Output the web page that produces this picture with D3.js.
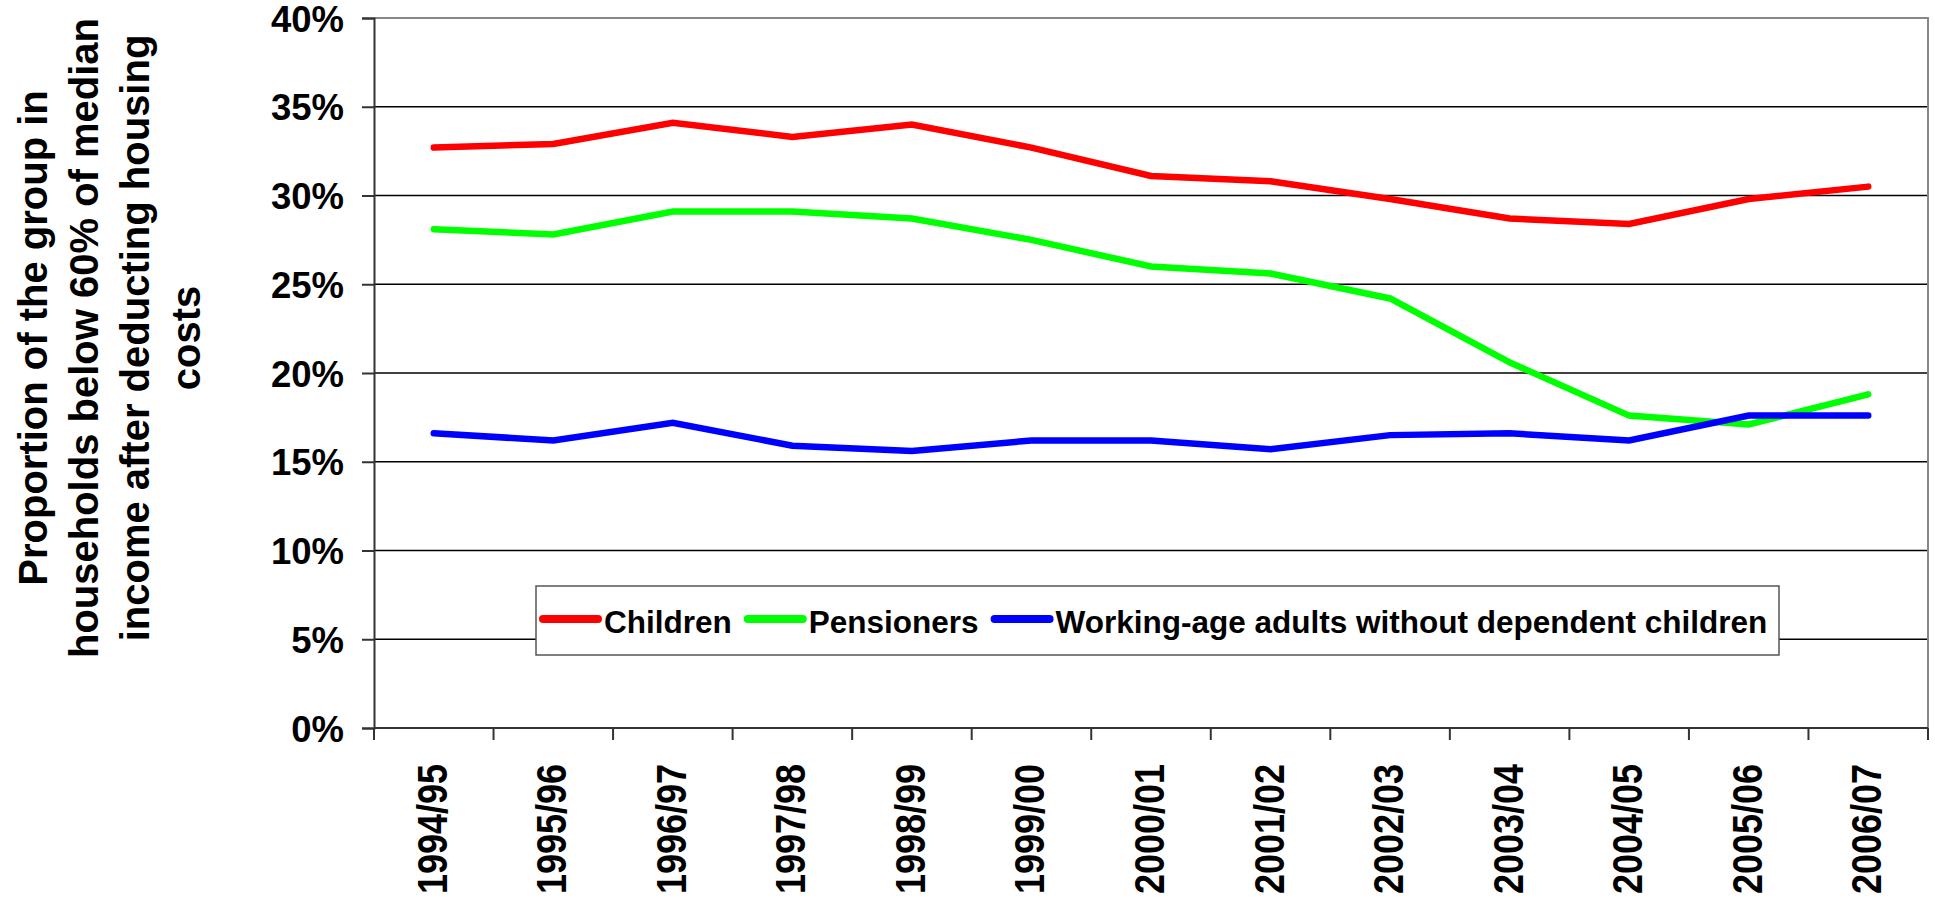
<!DOCTYPE html>
<html>
<head>
<meta charset="utf-8">
<script src="https://cdn.jsdelivr.net/npm/d3@7"></script>
<style>
  body { margin: 0; background: #fff; }
  text { font-family: "Liberation Sans", Arial, sans-serif; font-weight: bold; fill: #000; }
</style>
</head>
<body>
<svg width="1935" height="907"></svg>
<script>
var years = ["1994/95", "1995/96", "1996/97", "1997/98", "1998/99", "1999/00", "2000/01",
             "2001/02", "2002/03", "2003/04", "2004/05", "2005/06", "2006/07"];
var children   = [32.7, 32.9, 34.1, 33.3, 34.0, 32.7, 31.1, 30.8, 29.8, 28.7, 28.4, 29.8, 30.5];
var pensioners = [28.1, 27.8, 29.1, 29.1, 28.7, 27.5, 26.0, 25.6, 24.2, 20.6, 17.6, 17.1, 18.8];
var workingAge = [16.6, 16.2, 17.2, 15.9, 15.6, 16.2, 16.2, 15.7, 16.5, 16.6, 16.2, 17.6, 17.6];
var yTicks = [0, 5, 10, 15, 20, 25, 30, 35, 40];
var seriesNames = ["Children", "Pensioners", "Working-age adults without dependent children"];
var seriesColors = ["#ff0000", "#00ff00", "#0000ff"];
var titleLines = ["Proportion of the group in", "households below 60% of median",
                  "income after deducting housing", "costs"];

function drawChart() {
  var svg = d3.select("svg");
  var plotLeft = 374, plotRight = 1928, plotTop = 18, plotBottom = 728;

  var x = d3.scaleBand().domain(years).range([plotLeft, plotRight]);
  var y = d3.scaleLinear().domain([0, 40]).range([plotBottom, plotTop]);

  // gridlines
  svg.append("g").selectAll("line")
    .data(yTicks.filter(function(d) { return d > 0 && d < 40; }))
    .enter().append("line")
    .attr("x1", plotLeft).attr("x2", plotRight)
    .attr("y1", function(d) { return y(d); })
    .attr("y2", function(d) { return y(d); })
    .attr("stroke", "#000").attr("stroke-width", 1.3);

  // plot frame top / right
  svg.append("path")
    .attr("d", "M" + plotLeft + "," + y(40) + "H" + plotRight + "V" + plotBottom)
    .attr("fill", "none").attr("stroke", "#888").attr("stroke-width", 2);

  // y axis
  var yAxis = svg.append("g")
    .attr("transform", "translate(" + plotLeft + ",0)")
    .call(d3.axisLeft(y).tickValues(yTicks).tickSize(12).tickPadding(18)
      .tickFormat(function(d) { return d + "%"; }));
  yAxis.selectAll("path, line").attr("stroke", "#333").attr("stroke-width", 2);
  yAxis.selectAll("text").style("font-size", "36.5px").attr("dy", "0.36em");

  // x axis: ticks at category boundaries
  var xAxis = svg.append("g")
    .attr("transform", "translate(0," + plotBottom + ")");
  xAxis.append("line").attr("x1", plotLeft).attr("x2", plotRight)
    .attr("stroke", "#333").attr("stroke-width", 2);
  xAxis.selectAll("line.tick")
    .data(years.concat(["end"]))
    .enter().append("line").attr("class", "tick")
    .attr("x1", function(d, i) { return plotLeft + i * x.bandwidth(); })
    .attr("x2", function(d, i) { return plotLeft + i * x.bandwidth(); })
    .attr("y1", 0).attr("y2", 12)
    .attr("stroke", "#333").attr("stroke-width", 2);
  xAxis.selectAll("text")
    .data(years)
    .enter().append("text")
    .attr("transform", function(d) {
      return "translate(" + (x(d) + x.bandwidth() / 2 + 13) + ",36)rotate(-90)";
    })
    .attr("text-anchor", "end")
    .attr("textLength", 130).attr("lengthAdjust", "spacingAndGlyphs")
    .style("font-size", "43px")
    .text(function(d) { return d; });

  // series lines
  var allSeries = [children, pensioners, workingAge];
  var line = d3.line()
    .x(function(d, i) { return x(years[i]) + x.bandwidth() / 2; })
    .y(function(d) { return y(d); });

  svg.append("g").selectAll("path")
    .data(allSeries)
    .enter().append("path")
    .attr("d", line)
    .attr("fill", "none")
    .attr("stroke", function(d, i) { return seriesColors[i]; })
    .attr("stroke-width", 6.5)
    .attr("stroke-linecap", "round")
    .attr("stroke-linejoin", "miter");

  // legend
  var legend = svg.append("g");
  legend.append("rect")
    .attr("x", 536).attr("y", 586).attr("width", 1243).attr("height", 69)
    .attr("fill", "#fff").attr("stroke", "#555").attr("stroke-width", 1.5);

  var lx = 543;
  seriesNames.forEach(function(name, i) {
    legend.append("line")
      .attr("x1", lx).attr("x2", lx + 55)
      .attr("y1", 619).attr("y2", 619)
      .attr("stroke", seriesColors[i]).attr("stroke-width", 8)
      .attr("stroke-linecap", "round");
    var t = legend.append("text")
      .attr("x", lx + 61).attr("y", 633)
      .style("font-size", "31.5px")
      .text(name);
    lx = lx + 61 + t.node().getComputedTextLength() + 16;
  });

  // y axis title
  svg.append("g")
    .attr("transform", "translate(0,338)rotate(-90)")
    .selectAll("text")
    .data(titleLines)
    .enter().append("text")
    .attr("x", 0)
    .attr("y", function(d, i) { return 47 + i * 51; })
    .attr("text-anchor", "middle")
    .style("font-size", "40px")
    .text(function(d) { return d; });
}

drawChart();
</script>
</body>
</html>
